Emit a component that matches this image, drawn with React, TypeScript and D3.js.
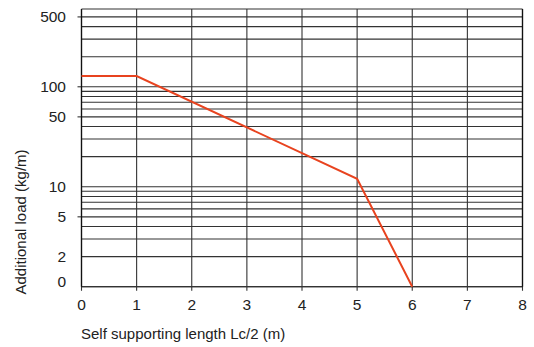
import React from "react";
import * as d3 from "d3";

const xTicks = [0, 1, 2, 3, 4, 5, 6, 7, 8];
const yGrid = [1, 2, 3, 4, 5, 6, 7, 8, 9, 10, 20, 30, 40, 50, 60, 70, 80, 90, 100, 200, 300, 400, 500, 600];
const yLabelValues = [500, 100, 50, 10, 5, 2, 1];
const yLabelTexts = ["500", "100", "50", "10", "5", "2", "0"];
const yTickMarks = [500, 100, 50, 5];
const seriesX = [0, 1, 5, 6];
const seriesY = [128, 128, 12, 1];

const W = 534;
const H = 347;
const M = { left: 81.5, right: 522.5, top: 9, bottom: 286.7 };
const FONT = "'Liberation Sans', Arial, sans-serif";

export default function App() {
  const x = d3.scaleLinear().domain([0, 8]).range([M.left, M.right]);
  const y = d3.scaleLog().domain([1, 600]).range([M.bottom, M.top]);
  const pts: [number, number][] = seriesX.map((v, i) => [v, seriesY[i]]);
  const line = d3
    .line<[number, number]>()
    .x((d) => x(d[0]))
    .y((d) => y(d[1]));

  return (
    <svg width={W} height={H} style={{ position: "absolute", left: 0, top: 0 }} fontFamily={FONT}>
      <rect width={W} height={H} fill="#fff" />
      {yGrid.map((v) => (
        <line key={"h" + v} x1={M.left} x2={M.right} y1={y(v)} y2={y(v)} stroke="#333" strokeWidth={1.1} />
      ))}
      {xTicks.map((v) => (
        <line key={"v" + v} x1={x(v)} x2={x(v)} y1={M.top} y2={M.bottom + 4} stroke="#333" strokeWidth={1.1} />
      ))}
      {yTickMarks.map((v) => (
        <line key={"t" + v} x1={M.left - 4} x2={M.left} y1={y(v)} y2={y(v)} stroke="#333" strokeWidth={1.1} />
      ))}
      <line x1={M.left} x2={M.right} y1={M.bottom} y2={M.bottom} stroke="#333" strokeWidth={1.3} />
      <line x1={M.left} x2={M.left} y1={M.top} y2={M.bottom} stroke="#111" strokeWidth={1.3} />
      <line x1={M.right} x2={M.right} y1={M.top} y2={M.bottom} stroke="#111" strokeWidth={1.3} />
      <path d={line(pts) || ""} fill="none" stroke="#e8431f" strokeWidth={2} />
      {xTicks.map((v) => (
        <text key={"xl" + v} x={x(v)} y={309.5} textAnchor="middle" fontSize={15.5} fill="#222">
          {String(v)}
        </text>
      ))}
      {yLabelValues.map((v, i) => (
        <text key={"yl" + v} x={66} y={y(v) + 5.5 - (v === 1 ? 5 : 0)} textAnchor="end" fontSize={15.5} fill="#222">
          {yLabelTexts[i]}
        </text>
      ))}
      <text x={81} y={339} fontSize={15} fill="#222">
        Self supporting length Lc/2 (m)
      </text>
      <text transform="translate(26,222) rotate(-90)" textAnchor="middle" fontSize={15} fill="#222">
        Additional load (kg/m)
      </text>
    </svg>
  );
}
